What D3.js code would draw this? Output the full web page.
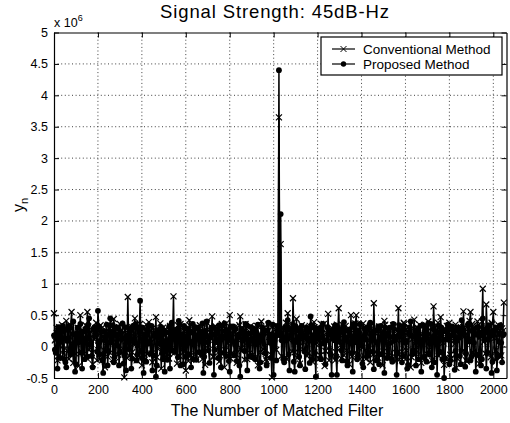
<!DOCTYPE html>
<html><head><meta charset="utf-8">
<script src="https://cdn.jsdelivr.net/npm/d3@7"></script>
<style>
html,body{margin:0;padding:0;background:#fff;}
svg{display:block;font-family:"Liberation Sans",Arial,Helvetica,sans-serif;}
</style></head>
<body>
<svg id="chart" width="510" height="423"></svg>
<script>
// ---- data (values in units of 10^6) ----
const titleText = "Signal Strength: 45dB-Hz";
const xLabelText = "The Number of Matched Filter";
const seriesNames = ["Conventional Method", "Proposed Method"];
const xTicks = [0,200,400,600,800,1000,1200,1400,1600,1800,2000];
const yTicks = [-0.5,0,0.5,1,1.5,2,2.5,3,3.5,4,4.5,5];
const sampleStep = 8;   // filter index spacing of the stored samples
const midOffset = 4;    // the "Mid" arrays hold the samples half-way between

// samples at filter index 0, 8, 16, ...
const conventional = [
 .53,.12,-.22,.31,.05,-.18,.27,.41,-.08,.15,.55,-.26,.22,.08,-.31,.5,
 .18,-.12,.34,.55,-.05,.24,-.28,.11,.38,.02,-.2,.29,.16,-.33,.07,.35,
 -.1,.26,.44,-.24,.13,.31,-.06,.2,-.49,.09,.79,-.15,.28,.04,.45,-.22,
 .17,.36,-.3,.1,.24,-.12,.39,.06,-.25,.21,.47,-.03,.14,-.35,.3,.19,
 -.17,.08,.33,-.09,.8,.22,-.27,.12,.36,-.05,.25,-.38,.16,.42,-.14,.07,
 .29,-.21,.18,.34,-.08,.11,-.29,.38,.03,.23,.48,-.16,.32,.09,-.24,.27,
 .14,-.33,.37,.05,.5,-.11,.2,.31,-.26,.1,.48,-.07,.25,.36,-.2,.13,
 .33,-.13,.06,.28,-.3,.19,.4,-.04,.22,-.23,.35,.08,-.49,.15,.27,.3,
 3.65,1.63,.21,-.18,.38,.53,.1,.29,.77,-.09,.44,.16,-.27,.34,.07,.25,
 -.15,.31,.12,-.24,.39,.04,.27,-.19,.36,.09,-.31,.22,.52,-.06,.3,.14,
 -.22,.35,.61,.02,.24,-.14,.33,.11,-.28,.5,.17,-.1,.5,.28,-.2,.06,
 .37,-.16,.21,.3,-.25,.13,.69,.04,-.12,.32,.2,-.3,.41,.08,.26,-.18,
 .15,.34,-.23,.1,.61,.27,-.08,.38,-.2,.18,.31,-.33,.12,.43,-.05,.24,
 .35,-.26,.16,.29,-.11,.4,.07,-.22,.64,.2,.33,-.15,.47,.09,-.29,.26,
 .13,.38,-.19,.23,.04,-.34,.31,.17,-.09,.56,.28,-.24,.12,.55,.36,-.13,
 .21,.4,-.27,.16,.92,.3,.67,-.1,.25,.38,.55,-.21,.14,.34,-.17,.29,
 .7
];
// samples at filter index 4, 12, 20, ...
const conventionalMid = [
 .1,.3,-.15,.2,.35,-.05,.12,.28,-.2,.33,.05,.18,-.12,.3,.22,-.08,
 .25,.06,-.18,.32,.14,-.1,.27,.2,-.22,.09,.34,.15,-.06,.24,-.16,.29,
 .12,-.2,.3,.07,-.13,.36,.19,-.04,.26,-.18,.11,.33,-.09,.21,.3,.02,
 -.14,.27,.16,-.21,.35,.08,.23,-.11,.3,.13,-.17,.25,.37,-.07,.18,.28,
 .04,-.19,.31,.15,-.1,.26,.34,-.15,.12,.29,-.05,.2,-.23,.33,.1,.24,
 -.12,.3,.17,.06,-.2,.35,.21,-.08,.27,.13,-.16,.32,.05,.22,-.14,.36,
 .19,-.06,.28,.1,-.19,.31,.24,-.12,.16,.34,-.03,.23,-.21,.29,.08,-.1,
 .27,.14,-.17,.33,.2,-.09,.11,.3,-.2,.25,.07,-.13,.32,.18,-.05,.2,
 .24,-.15,.3,.12,-.2,.35,.17,-.08,.26,.1,-.18,.31,.22,-.04,.14,.28,
 -.11,.33,.19,-.17,.25,.06,.3,-.14,.2,.36,-.07,.15,-.22,.27,.11,.32,
 -.09,.23,.13,-.19,.34,.2,-.06,.29,.09,-.16,.26,.37,-.12,.18,.31,-.02,
 .16,-.2,.28,.1,.33,-.13,.22,.05,-.18,.3,.14,-.08,.35,.21,-.15,.25,
 .08,.32,-.1,.19,-.21,.27,.12,.36,-.06,.23,.15,-.17,.29,.04,.31,-.12,
 .2,.1,-.16,.34,.24,-.05,.17,-.2,.3,.13,.38,-.1,.22,.06,-.18,.33,
 .15,-.13,.27,.09,.35,-.19,.2,.31,-.07,.16,-.22,.28,.41,.12,-.09,.26,
 .32,-.15,.18,.4,.07,-.11,.29,.23,-.17,.36,.13,-.06,.3,.2,-.14,.25
];

const proposed = [
 .18,-.1,-.35,.26,.09,.33,-.2,-.33,.14,.3,-.05,.4,-.4,.21,.07,.36,
 -.35,.12,.28,-.16,.45,.04,-.33,.31,.19,.57,-.12,.24,-.42,.1,.35,-.07,
 .45,.16,-.25,.3,.02,-.3,.22,.37,-.14,-.38,.11,.27,-.35,.33,.06,-.22,
 .29,.73,-.18,-.42,.2,.08,.34,-.11,-.38,.17,-.48,.26,.05,.31,-.2,-.4,
 .23,.1,-.35,.38,.15,-.08,.27,.41,-.3,.12,.33,-.16,.06,.24,-.33,.36,
 .09,-.21,.3,.18,-.12,-.42,.25,.4,-.06,.14,.29,-.45,.2,.07,.34,-.33,
 .16,.37,-.15,.26,-.4,.11,.32,.03,-.23,.19,-.48,.28,.13,.36,-.38,.08,
 .31,-.17,.22,.04,.35,-.35,.14,.27,-.1,-.3,.38,.06,.2,-.45,.17,.33,
 4.4,2.11,.12,-.25,.3,.42,-.38,.18,.35,-.4,.26,.07,-.3,.33,.15,-.36,
 .22,.09,.48,-.2,.3,-.48,.13,.25,-.2,.36,.05,.1,.28,.2,-.45,.16,
 .34,-.45,.08,.27,-.22,.39,.11,-.3,.24,.05,-.4,.31,.17,-.14,.36,.02,
 -.33,.2,.29,-.1,.38,.12,-.36,.25,.07,-.28,.33,.15,-.42,.21,.04,.3,
 -.19,.36,.1,-.45,.26,.18,-.25,.32,.06,-.35,.23,.4,-.12,.16,-.3,.28,
 .1,-.4,.34,.2,-.24,.37,.05,-.33,.28,.14,-.45,.22,.31,-.2,-.5,.12,
 .35,-.28,.18,.26,-.37,.09,.3,-.15,.42,.2,-.32,.13,.37,-.22,.25,.06,
 -.4,.3,.16,-.3,.45,.22,-.35,.11,.33,-.42,.19,.27,-.38,.08,.34,-.25,
 .2
];
const proposedMid = [
 -.05,.22,.31,-.18,.14,.27,-.25,.09,.33,-.12,.2,.06,-.28,.3,.16,-.1,
 .24,-.2,.13,.35,.03,-.15,.28,.19,-.08,.32,.1,-.22,.25,.15,-.3,.21,
 .07,.34,-.16,.2,.29,-.09,.12,-.27,.31,.18,-.04,.26,-.19,.11,.36,-.13,
 .23,-.07,.3,.14,-.24,.27,.05,.33,-.14,.21,-.3,.17,.28,-.1,.25,.09,
 -.21,.32,.16,-.06,.26,.11,-.17,.35,.2,-.28,.13,.29,-.12,.22,.04,-.2,
 .31,.15,-.09,.24,.37,-.16,.18,.07,-.26,.3,.2,-.05,.27,-.18,.12,.33,
 -.1,.25,.19,-.23,.32,.08,-.14,.28,.16,-.3,.22,.1,-.07,.34,.21,-.16,
 .13,.29,-.2,.17,.06,-.25,.31,.2,-.11,.26,.14,-.18,.35,.09,-.22,.24,
 .18,.1,-.2,.3,.14,-.12,.27,.21,-.24,.32,.08,-.16,.25,.19,-.08,.3,
 .12,-.26,.34,.17,-.1,.23,.29,-.19,.15,.05,-.28,.31,.2,-.13,.26,.1,
 -.17,.3,.22,-.06,.33,.13,-.23,.27,.18,-.1,.36,.07,-.2,.24,.15,-.27,
 .29,.11,-.15,.35,.2,-.08,.26,-.22,.32,.14,-.12,.23,.3,-.18,.17,.06,
 -.24,.28,.16,-.1,.34,.21,-.15,.27,.09,-.29,.31,.18,-.06,.25,.13,-.2,
 .33,.07,-.17,.29,.2,-.12,.36,.15,-.25,.22,.1,-.08,.3,.24,-.19,.27,
 .11,-.22,.32,.18,-.07,.26,.14,-.28,.3,.2,-.11,.35,.08,-.16,.28,.19,
 -.13,.31,.22,-.2,.27,.12,-.09,.34,.17,-.24,.25,.3,-.15,.21,.06,.18
];

// ---- layout ----
const svg = d3.select("#chart");
const L = 54, R = 506.5, T = 32.5, B = 378;
const x = d3.scaleLinear().domain([0, 2060]).range([L, R]);
const y = d3.scaleLinear().domain([-0.5, 5]).range([B, T]);

// grid
const grid = svg.append("g").attr("stroke", "#000").attr("stroke-width", 1)
  .attr("stroke-dasharray", "1,2.6").attr("opacity", 0.75);
grid.selectAll(".gx").data(xTicks.slice(1)).enter().append("line")
  .attr("x1", d => x(d)).attr("x2", d => x(d)).attr("y1", T).attr("y2", B);
grid.selectAll(".gy").data(yTicks.slice(1, -1)).enter().append("line")
  .attr("x1", L).attr("x2", R).attr("y1", d => y(d)).attr("y2", d => y(d));

// series
function toPts(main, mid) {
  const pts = main.map((v, i) => [i * sampleStep, v])
    .concat(mid.map((v, i) => [i * sampleStep + midOffset, v]));
  return pts.sort((a, b) => a[0] - b[0]);
}
const line = d3.line().x(d => x(d[0])).y(d => y(d[1]));
const plot = svg.append("g");
const xMark = "M-3,-3L3,3M-3,3L3,-3";

function drawSeries(pts, kind) {
  plot.append("path").datum(pts).attr("d", line)
    .attr("fill", "none").attr("stroke", "#000").attr("stroke-width", 1.5)
    .attr("stroke-linejoin", "round");
  if (kind === "x") {
    plot.append("g").selectAll("path").data(pts).enter().append("path")
      .attr("transform", d => `translate(${x(d[0])},${y(d[1])})`)
      .attr("d", xMark).attr("stroke", "#000").attr("stroke-width", 1.2).attr("fill", "none");
  } else {
    plot.append("g").selectAll("circle").data(pts).enter().append("circle")
      .attr("cx", d => x(d[0])).attr("cy", d => y(d[1])).attr("r", 2.9).attr("fill", "#000");
  }
}
drawSeries(toPts(conventional, conventionalMid), "x");
drawSeries(toPts(proposed, proposedMid), "dot");

// axes
const fmtX = d3.format("d");
const fmtY = d => (d === 0 ? "0" : String(d));
const axB = d3.axisBottom(x).tickValues(xTicks).tickFormat(fmtX).tickSizeInner(-5).tickSizeOuter(0).tickPadding(7);
const axL = d3.axisLeft(y).tickValues(yTicks).tickFormat(fmtY).tickSizeInner(-5).tickSizeOuter(0).tickPadding(6);
const axT = d3.axisTop(x).tickValues(xTicks).tickFormat("").tickSizeInner(-5).tickSizeOuter(0);
const axR = d3.axisRight(y).tickValues(yTicks).tickFormat("").tickSizeInner(-5).tickSizeOuter(0);
function style(g) {
  g.selectAll("text").attr("font-size", "12.5px").attr("fill", "#000")
    .attr("font-family", "Liberation Sans, Arial, sans-serif");
  g.selectAll("line").attr("stroke", "#000");
  g.select(".domain").attr("stroke", "#000").attr("stroke-width", 1.2);
}
svg.append("g").attr("transform", `translate(0,${B})`).call(axB).call(style);
svg.append("g").attr("transform", `translate(${L},0)`).call(axL).call(style);
svg.append("g").attr("transform", `translate(0,${T})`).call(axT).call(style);
svg.append("g").attr("transform", `translate(${R},0)`).call(axR).call(style);

// exponent label
const ex = svg.append("text").attr("x", 54).attr("y", 26.5).attr("font-size", "12.5px").attr("fill", "#000");
ex.append("tspan").text("x 10");
ex.append("tspan").attr("dy", -6).attr("font-size", "9px").text("6");

// title
svg.append("text").attr("x", 274.5).attr("y", 18).attr("text-anchor", "middle")
  .attr("font-size", "18.5px").attr("fill", "#000")
  .attr("textLength", 229).attr("lengthAdjust", "spacing").text(titleText);

// x label
svg.append("text").attr("x", 277).attr("y", 416).attr("text-anchor", "middle")
  .attr("font-size", "16px").attr("fill", "#000").text(xLabelText);

// y label
const yl = svg.append("text").attr("transform", "translate(24,205) rotate(-90)")
  .attr("text-anchor", "middle").attr("font-size", "16px").attr("fill", "#000");
yl.append("tspan").text("y");
yl.append("tspan").attr("dy", 4).attr("font-size", "11px").text("n");

// legend
const lg = svg.append("g");
lg.append("rect").attr("x", 321).attr("y", 37).attr("width", 181).attr("height", 38)
  .attr("fill", "#fff").attr("stroke", "#000").attr("stroke-width", 1.2);
const legendRows = [{name: seriesNames[0], kind: "x", yy: 49}, {name: seriesNames[1], kind: "dot", yy: 64}];
legendRows.forEach(r => {
  lg.append("line").attr("x1", 332).attr("x2", 355).attr("y1", r.yy).attr("y2", r.yy)
    .attr("stroke", "#000").attr("stroke-width", 1.2);
  if (r.kind === "x") {
    lg.append("path").attr("transform", `translate(343.5,${r.yy})`).attr("d", xMark)
      .attr("stroke", "#000").attr("fill", "none");
  } else {
    lg.append("circle").attr("cx", 343.5).attr("cy", r.yy).attr("r", 2.7).attr("fill", "#000");
  }
  lg.append("text").attr("x", 363).attr("y", r.yy + 4.5).attr("font-size", "13.5px")
    .attr("fill", "#000").text(r.name);
});
</script>
</body></html>
